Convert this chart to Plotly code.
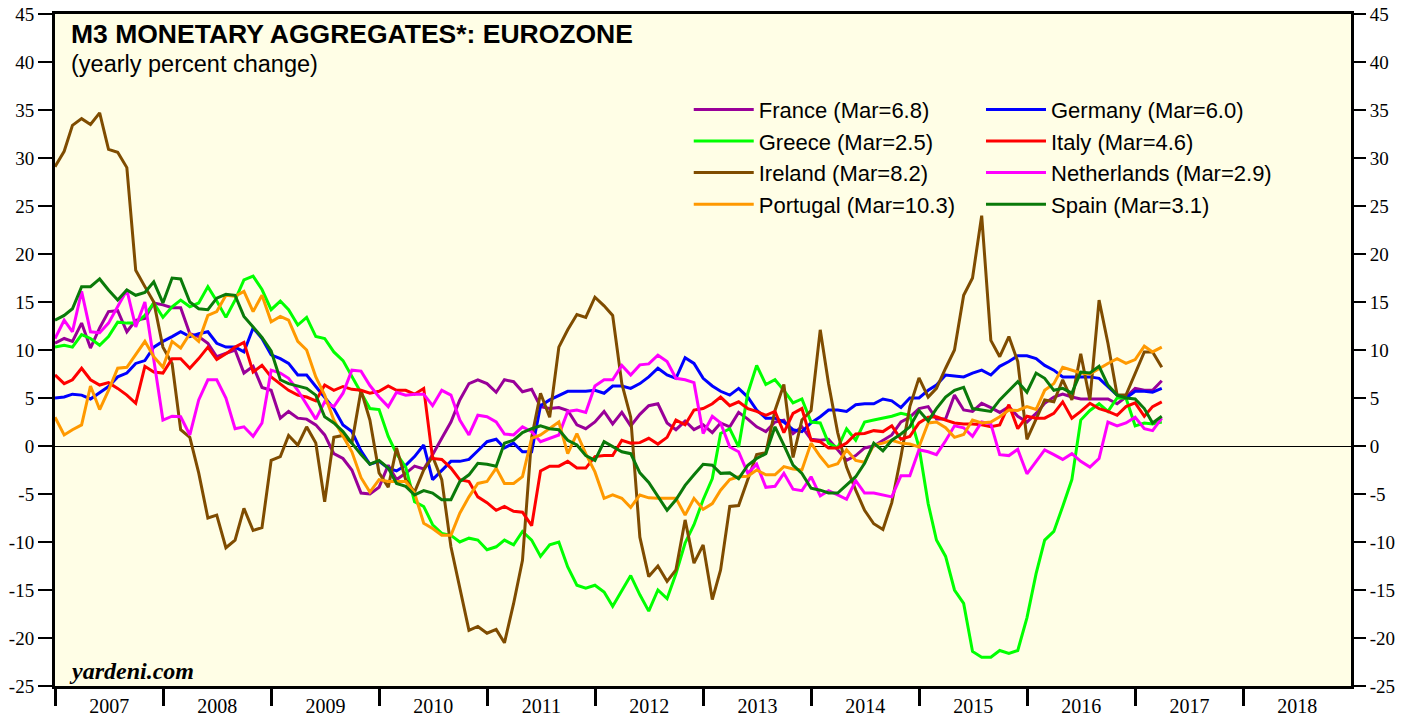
import pandas as pd
import plotly.graph_objects as go

# Monthly data, Dec 2006 .. Mar 2017 (yearly percent change)
dates = pd.date_range("2006-12-31", periods=124, freq="ME")

france = [10.7, 11.2, 10.9, 12.8, 10.2, 12.3, 14.0, 14.1, 11.9, 13.1, 13.3, 14.9, 14.7, 14.4, 14.4, 11.7,
          11.4, 10.7, 9.3, 9.65, 10.0, 7.6, 8.3, 6.1, 5.8, 2.9, 3.6, 2.9, 2.8, 2.2, 1.15, -0.8,
          -1.3, -2.5, -4.9, -5.0, -4.3, -2.0, -3.5, -2.85, -2.1, -2.4, -0.9, 0.8, 2.5, 4.8, 6.5, 6.9,
          6.5, 5.6, 6.9, 6.7, 5.65, 5.9, 4.1, 3.9, 4.0, 3.7, 2.2, 1.8, 2.5, 3.6, 2.3, 3.5,
          2.1, 3.3, 4.2, 4.4, 2.4, 1.7, 2.6, 1.7, 2.2, 1.4, 2.4, 2.0, 3.5, 2.8, 2.0, 1.5,
          2.5, 2.7, 1.3, 2.0, 0.7, 0.6, 0.7, -0.4, -1.5, -1.0, -0.2, 0.0, 0.6, 1.15, 2.5, 3.0,
          3.9, 4.1, 2.8, 2.8, 5.3, 3.75, 3.6, 4.45, 4.0, 3.5, 4.1, 3.1, 2.5, 3.4, 4.45, 5.1,
          5.4, 5.1, 4.9, 4.9, 4.9, 4.9, 4.4, 5.1, 6.0, 5.8, 5.8, 6.8]

germany = [5.0, 5.1, 5.4, 5.3, 4.9, 5.6, 6.2, 7.2, 7.6, 8.6, 8.9, 10.3, 10.9, 11.4, 11.9, 11.4,
           11.7, 11.9, 10.7, 10.3, 10.3, 9.8, 12.3, 11.2, 9.5, 9.1, 8.6, 7.4, 7.4, 6.2, 5.1, 3.9,
           2.2, 1.5, -0.5, -1.9, -1.6, -2.3, -2.6, -2.0, -1.1, 0.1, -3.5, -2.6, -1.6, -1.6, -1.4, -0.5,
           0.45, 0.7, -0.2, 0.3, -0.6, -0.6, 4.2, 4.8, 5.3, 5.7, 5.7, 5.7, 5.8, 5.5, 6.25, 6.25,
           6.0, 6.5, 7.2, 8.1, 7.4, 7.05, 9.2, 8.6, 7.05, 6.25, 5.7, 5.3, 6.0, 5.1, 3.75, 2.9,
           2.9, 2.5, 1.7, 1.5, 2.4, 3.05, 3.75, 3.75, 3.6, 4.3, 4.4, 4.4, 4.9, 4.7, 4.0, 5.0,
           5.0, 5.8, 6.35, 7.4, 7.3, 7.2, 7.6, 7.9, 7.4, 8.3, 8.8, 9.4, 9.4, 9.1, 8.4, 7.9,
           7.2, 7.2, 7.2, 7.2, 7.05, 6.2, 5.3, 5.0, 5.7, 5.7, 5.6, 6.0]

greece = [10.3, 10.5, 10.3, 11.6, 11.2, 10.5, 11.4, 12.9, 12.8, 12.8, 13.6, 14.9, 13.4, 14.5, 15.2, 14.5,
          14.9, 16.6, 15.1, 13.4, 15.2, 17.3, 17.7, 16.3, 14.2, 15.1, 14.2, 12.6, 13.4, 11.4, 11.2, 9.8,
          8.9, 7.2, 5.6, 3.9, 3.8, 1.0, -0.8, -2.2, -5.8, -6.3, -8.2, -9.1, -9.3, -10.0, -9.6, -9.8,
          -10.8, -10.5, -9.8, -10.3, -8.9, -9.8, -11.5, -10.3, -10.0, -12.6, -14.5, -14.8, -14.5, -15.2, -16.7, -15.0,
          -13.5, -15.5, -17.2, -15.0, -15.9, -13.3, -10.1, -8.2, -5.6, -3.4, 1.3, 1.8, -0.1, 5.5, 8.4, 6.4,
          6.9, 5.8, 4.5, 4.9, 2.5, 2.4, 0.3, -0.2, 1.8, 0.6, 2.5, 2.7, 2.9, 3.1, 3.4, 3.2,
          -0.1, -6.0, -9.8, -11.5, -15.0, -16.4, -21.4, -22.0, -22.0, -21.3, -21.6, -21.3, -17.9, -13.3, -9.8, -8.9,
          -6.3, -3.5, 2.7, 3.7, 4.4, 3.6, 5.0, 5.0, 2.1, 2.4, 2.3, 2.5]

ireland = [29.1, 30.7, 33.4, 34.1, 33.5, 34.7, 30.9, 30.6, 29.0, 18.3, 16.6, 15.0, 10.3, 8.6, 1.7, 0.9,
           -2.8, -7.5, -7.2, -10.6, -9.8, -6.5, -8.8, -8.5, -1.5, -1.1, 1.1, 0.1, 2.0, 0.3, -5.8, 0.9,
           1.1, 0.3, 5.8, 2.7, -2.8, -4.3, -0.2, -3.5, -4.8, -2.5, -1.1, -3.5, -10.5, -14.7, -19.2, -18.8,
           -19.5, -19.1, -20.5, -16.4, -11.9, 0.9, 5.5, 3.0, 10.3, 12.1, 13.7, 13.4, 15.5, 14.6, 13.6, 6.5,
           3.0, -9.5, -13.6, -12.5, -14.1, -12.9, -7.7, -12.2, -10.3, -16.0, -12.9, -6.3, -6.2, -3.5, -0.9, -0.7,
           3.7, 6.4, -1.2, 2.7, 3.7, 12.1, 6.5, 1.4, -2.2, -4.6, -6.7, -8.1, -8.7, -5.9, -1.1, 4.1,
           7.1, 5.1, 6.0, 8.1, 10.0, 15.7, 17.5, 24.0, 11.0, 9.3, 11.4, 8.8, 0.7, 2.8, 4.8, 4.6,
           6.9, 4.8, 9.6, 4.8, 15.2, 10.7, 5.3, 5.3, 7.6, 9.8, 9.8, 8.2]

italy = [7.4, 6.5, 6.9, 8.1, 6.9, 6.35, 6.6, 6.0, 5.3, 4.45, 8.3, 7.7, 7.6, 9.1, 9.1, 8.1,
         9.1, 10.3, 9.0, 9.6, 10.3, 10.8, 7.7, 8.4, 7.2, 6.5, 5.8, 5.3, 5.1, 4.7, 6.35, 5.8,
         6.2, 5.9, 5.8, 5.5, 5.7, 6.25, 5.8, 5.8, 5.4, 6.0, -1.3, -1.4, -2.3, -3.5, -3.7, -5.3,
         -5.9, -6.7, -6.3, -6.8, -6.9, -8.3, -2.6, -2.1, -2.1, -1.6, -2.3, -2.3, -1.1, -1.0, -1.0, 0.6,
         0.3, 0.35, 0.8, 0.2, 0.9, 2.7, 2.2, 3.75, 3.9, 4.4, 5.1, 4.2, 4.6, 3.9, 3.6, 3.2,
         3.6, 1.4, 3.4, 3.9, 0.6, 0.45, -0.2, -0.2, 0.3, 1.25, 1.3, 1.6, 1.5, 2.1, 0.7, 1.0,
         2.4, 3.0, 3.05, 2.7, 2.4, 2.3, 2.3, 2.2, 2.0, 2.2, 4.3, 1.8, 3.1, 2.9, 2.9, 3.4,
         4.6, 2.9, 3.6, 4.45, 3.9, 3.6, 3.2, 4.1, 4.5, 3.1, 4.1, 4.6]

netherlands = [11.2, 13.1, 11.9, 16.1, 11.9, 11.8, 12.8, 14.5, 16.25, 12.4, 15.0, 9.0, 2.7, 3.1, 3.05, 1.15,
               4.8, 6.9, 6.9, 5.0, 1.8, 2.0, 1.0, 2.4, 7.9, 7.6, 7.05, 5.8, 4.3, 2.8, 4.6, 4.1,
               5.5, 7.9, 7.8, 6.3, 5.1, 4.1, 5.6, 5.3, 5.4, 5.4, 4.2, 5.8, 5.3, 2.7, 1.15, 3.2,
               3.05, 2.5, 1.25, 1.15, 2.0, 1.5, 0.45, 0.8, 1.15, 3.6, 3.75, 3.5, 6.25, 6.9, 6.9, 8.4,
               7.4, 8.45, 8.55, 9.45, 8.8, 7.05, 6.9, 6.6, 1.3, 3.1, 2.4, -0.1, -0.6, -2.85, -1.9, -4.3,
               -4.2, -2.85, -4.5, -4.65, -3.2, -5.2, -4.65, -5.1, -5.55, -3.6, -4.9, -4.9, -5.1, -5.3, -3.1, -3.1,
               -0.4, -0.6, -0.9, 0.55, 2.1, 1.9, 1.0, 2.5, 2.3, -0.9, -1.0, -0.35, -2.9, -1.6, -0.4, -0.9,
               -1.4, -0.8, -1.6, -2.2, -1.3, 2.5, 2.1, 2.4, 3.0, 1.8, 1.6, 2.9]

portugal = [3.0, 1.15, 1.7, 2.2, 6.25, 3.8, 5.8, 8.1, 8.2, 9.5, 10.9, 9.3, 8.2, 10.9, 10.2, 11.7,
            10.9, 13.6, 14.0, 15.7, 15.6, 16.1, 14.0, 15.7, 12.95, 13.5, 13.1, 10.9, 10.0, 7.2, 5.3, 2.7,
            1.0, -0.6, -3.3, -4.8, -3.5, -3.7, -3.7, -3.7, -4.9, -8.05, -8.6, -9.3, -9.3, -7.0, -5.3, -3.9,
            -3.7, -2.3, -3.9, -3.9, -3.2, 0.8, 1.15, 1.8, 2.5, -0.8, 1.3, -0.8, -2.7, -5.45, -5.1, -5.45,
            -6.4, -5.1, -5.4, -5.45, -5.45, -5.45, -7.2, -5.45, -6.6, -6.0, -4.6, -3.5, -3.2, -3.15, -2.5, -3.0,
            -3.0, -2.15, -2.4, -2.5, 0.3, -1.1, -2.15, -1.85, -0.4, -1.5, -1.7, 0.1, 0.3, 0.6, 0.3, 0.2,
            -0.1, 2.4, 2.5, 1.9, 0.9, 1.2, 2.7, 2.4, 2.5, 3.05, 3.75, 3.7, 4.1, 3.8, 5.8, 6.5,
            8.2, 7.9, 7.6, 7.5, 8.1, 8.6, 9.1, 8.6, 9.0, 10.4, 9.8, 10.3]

spain = [13.1, 13.6, 14.3, 16.6, 16.6, 17.4, 16.25, 15.2, 16.25, 15.7, 16.0, 17.1, 14.9, 17.5, 17.4, 15.0,
         14.3, 14.2, 15.4, 15.8, 15.7, 13.5, 12.4, 11.3, 9.9, 6.9, 6.5, 6.25, 6.0, 5.3, 3.05, 2.4,
         1.5, 0.3, -0.9, -1.9, -1.5, -2.3, -3.9, -4.2, -5.1, -4.65, -4.9, -5.6, -5.6, -3.7, -3.0, -1.8,
         -1.9, -2.1, 0.3, 0.6, 1.4, 1.8, 2.1, 1.8, 1.7, 0.6, 0.1, -1.0, -1.5, 0.45, -0.1, -0.6,
         -0.8, -2.8, -3.8, -5.2, -6.7, -5.6, -4.1, -3.0, -1.9, -2.0, -2.85, -2.8, -3.4, -2.0, -1.3, -0.8,
         2.0, 0.1, -2.0, -2.85, -4.4, -4.6, -4.9, -4.9, -4.1, -3.2, -1.8, 0.3, -0.5, 0.6, 1.25, 2.0,
         3.7, 2.6, 3.9, 5.1, 5.8, 6.1, 3.9, 3.75, 3.6, 4.8, 5.8, 6.7, 5.6, 7.6, 7.05, 5.8,
         6.0, 5.5, 7.7, 7.6, 8.3, 6.35, 5.3, 5.0, 4.9, 3.9, 2.4, 3.1]

series_names = ["France", "Germany", "Greece", "Ireland", "Italy", "Netherlands", "Portugal", "Spain"]
series_values = [france, germany, greece, ireland, italy, netherlands, portugal, spain]
series_labels = ["France (Mar=6.8)", "Germany (Mar=6.0)", "Greece (Mar=2.5)", "Ireland (Mar=8.2)",
                 "Italy (Mar=4.6)", "Netherlands (Mar=2.9)", "Portugal (Mar=10.3)", "Spain (Mar=3.1)"]
series_colors = ["#990099", "#0000FF", "#00FF00", "#7F4C00", "#FF0000", "#FF00FF", "#FF9900", "#0A7A0A"]
series_legend = ["legend", "legend2", "legend", "legend", "legend2", "legend2", "legend", "legend2"]

y_tick_vals = [-25, -20, -15, -10, -5, 0, 5, 10, 15, 20, 25, 30, 35, 40, 45]
y_tick_text = ["-25", "-20", "-15", "-10", "-5", "0", "5", "10", "15", "20", "25", "30", "35", "40", "45"]

fig = go.Figure()
for name, vals, lab, col, lg in zip(series_names, series_values, series_labels, series_colors, series_legend):
    fig.add_trace(go.Scatter(x=dates, y=vals, mode="lines", name=lab, legend=lg,
                             line=dict(color=col, width=3), hoverinfo="skip"))

# invisible trace so the right-hand axis is drawn
fig.add_trace(go.Scatter(x=dates, y=france, yaxis="y2", mode="lines", line=dict(width=0, color="rgba(0,0,0,0)"),
                         showlegend=False, hoverinfo="skip"))

ytick_font = dict(family="Liberation Serif", size=19, color="black")
xtick_font = dict(family="Liberation Serif", size=20, color="black")
legend_font = dict(family="Liberation Sans", size=22, color="black")
fig.update_layout(
    width=1416, height=717,
    margin=dict(l=55, r=65, t=14, b=31, autoexpand=False),
    paper_bgcolor="white",
    plot_bgcolor="#FFFEE6",
    showlegend=True,
    xaxis=dict(
        type="date", range=["2006-12-31", "2018-12-31"], automargin=False,
        tick0="2007-01-01", dtick="M12", tickformat="%Y", ticklabelmode="period",
        ticks="outside", ticklen=17, tickwidth=2.5, tickcolor="black", ticklabelstandoff=-17,
        showline=True, linewidth=3, linecolor="black", mirror=True,
        showgrid=False, zeroline=False, tickfont=xtick_font,
    ),
    yaxis=dict(
        range=[-25, 45], tickvals=y_tick_vals, ticktext=y_tick_text, automargin=False,
        ticks="outside", ticklen=14, tickwidth=1.5, tickcolor="black",
        showline=True, linewidth=3, linecolor="black", mirror=True,
        showgrid=False, zeroline=True, zerolinecolor="black", zerolinewidth=1,
        tickfont=ytick_font,
    ),
    yaxis2=dict(
        range=[-25, 45], tickvals=y_tick_vals, ticktext=y_tick_text, automargin=False,
        overlaying="y", side="right",
        ticks="outside", ticklen=14, tickwidth=1.5, tickcolor="black",
        showline=False, showgrid=False, zeroline=False, tickfont=ytick_font,
    ),
    legend=dict(x=0.489, y=0.889, xanchor="left", yanchor="top", bgcolor="rgba(0,0,0,0)",
                font=legend_font, tracegroupgap=0, itemwidth=60),
    legend2=dict(x=0.7145, y=0.889, xanchor="left", yanchor="top", bgcolor="rgba(0,0,0,0)",
                 font=legend_font, tracegroupgap=0, itemwidth=60),
)

fig.add_annotation(x=0.011, y=0.97, xref="paper", yref="paper", xanchor="left", yanchor="middle",
                   text="<b>M3 MONETARY AGGREGATES*: EUROZONE</b>", showarrow=False,
                   font=dict(family="Liberation Sans", size=26.5, color="black"))
fig.add_annotation(x=0.011, y=0.925, xref="paper", yref="paper", xanchor="left", yanchor="middle",
                   text="(yearly percent change)", showarrow=False,
                   font=dict(family="Liberation Sans", size=23.5, color="black"))
fig.add_annotation(x=0.009, y=0.022, xref="paper", yref="paper", xanchor="left", yanchor="middle",
                   text="<b><i>yardeni.com</i></b>", showarrow=False,
                   font=dict(family="Liberation Serif", size=24, color="black"))

fig.write_html("out.html", config={"displayModeBar": False},
               post_script="document.body.style.margin='0';document.body.style.overflow='hidden';")
